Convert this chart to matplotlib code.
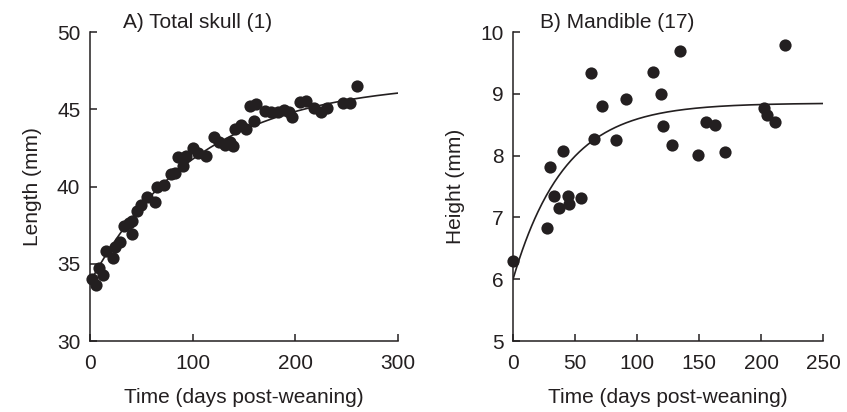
import numpy as np
import matplotlib
matplotlib.use("Agg")
import matplotlib.pyplot as plt

plt.rcParams["font.family"] = ["Liberation Sans", "DejaVu Sans"]

# Panel A: total skull length (mm) vs days post-weaning
skull_days = [2, 6, 9, 13, 16, 22, 24, 29, 33, 38, 41, 41, 46, 50, 55, 63, 65, 72,
              79, 83, 86, 91, 93, 100, 105, 113, 121, 126, 131, 136, 139, 141, 147,
              152, 156, 160, 162, 170, 176, 183, 189, 194, 197, 204, 210, 218, 225,
              231, 246, 253, 260]
skull_length = [34.0, 33.6, 34.7, 34.3, 35.85, 35.4, 36.1, 36.4, 37.45, 37.65, 37.8,
                36.9, 38.4, 38.8, 39.3, 39.0, 39.95, 40.1, 40.8, 40.85, 41.9, 41.3,
                42.0, 42.5, 42.15, 42.0, 43.2, 42.9, 42.7, 42.85, 42.6, 43.7, 43.95,
                43.75, 45.2, 44.25, 45.35, 44.9, 44.85, 44.85, 44.95, 44.85, 44.5,
                45.5, 45.55, 45.05, 44.8, 45.05, 45.4, 45.4, 46.5]

# Panel B: mandible height (mm)
mand_days = [0, 27, 30, 33, 37, 40, 44, 45, 55, 63, 65, 72, 83, 91, 113, 119, 121,
             128, 135, 149, 156, 163, 171, 202, 205, 211, 219]
mand_height = [6.3, 6.83, 7.82, 7.35, 7.16, 8.07, 7.35, 7.22, 7.31, 9.33, 8.27, 8.81,
               8.26, 8.92, 9.36, 8.99, 8.48, 8.17, 9.70, 8.01, 8.54, 8.49, 8.06, 8.77,
               8.65, 8.55, 9.79]

# fitted curves: asymptote, start value, rate
skull_fit = (46.8, 33.8, 0.0095)
mand_fit = (8.85, 6.0, 0.024)

FS = 15
ink = "#231f20"


def growth(t, fit):
    top, start, rate = fit
    return top - (top - start) * np.exp(-rate * t)


def style_axes(ax):
    for side in ("top", "right"):
        ax.spines[side].set_visible(False)
    for side in ("left", "bottom"):
        ax.spines[side].set_linewidth(1.1)
        ax.spines[side].set_color(ink)
    ax.tick_params(direction="in", length=5, width=1.1, labelsize=FS,
                   color=ink, labelcolor=ink)
    ax.tick_params(axis="x", pad=9)
    ax.tick_params(axis="y", pad=7)


fig = plt.figure(figsize=(8.47, 4.12), dpi=100)
ax_a = fig.add_axes([0.1063, 0.1723, 0.3637, 0.750])
ax_b = fig.add_axes([0.6057, 0.1723, 0.3660, 0.750])

t_a = np.linspace(0, 300, 300)
ax_a.plot(t_a, growth(t_a, skull_fit), color=ink, lw=1.2, zorder=2)
ax_a.plot(skull_days, skull_length, "o", color=ink, ms=8.8, mec="none",
          clip_on=False, zorder=3)
ax_a.set_xlim(0, 300)
ax_a.set_ylim(30, 50)
ax_a.set_xticks([0, 100, 200, 300])
ax_a.set_yticks([30, 35, 40, 45, 50])
ax_a.set_xlabel("Time (days post-weaning)", fontsize=FS, color=ink, labelpad=11)
ax_a.set_ylabel("Length (mm)", fontsize=FS, color=ink, labelpad=11)
ax_a.text(0.107, 1.013, "A) Total skull (1)", transform=ax_a.transAxes,
          fontsize=FS, color=ink, va="baseline", ha="left")
style_axes(ax_a)

t_b = np.linspace(0, 250, 300)
ax_b.plot(t_b, growth(t_b, mand_fit), color=ink, lw=1.2, zorder=2)
ax_b.plot(mand_days, mand_height, "o", color=ink, ms=8.8, mec="none",
          clip_on=False, zorder=3)
ax_b.set_xlim(0, 250)
ax_b.set_ylim(5, 10)
ax_b.set_xticks([0, 50, 100, 150, 200, 250])
ax_b.set_yticks([5, 6, 7, 8, 9, 10])
ax_b.set_xlabel("Time (days post-weaning)", fontsize=FS, color=ink, labelpad=11)
ax_b.set_ylabel("Height (mm)", fontsize=FS, color=ink, labelpad=11)
ax_b.text(0.087, 1.013, "B) Mandible (17)", transform=ax_b.transAxes,
          fontsize=FS, color=ink, va="baseline", ha="left")
style_axes(ax_b)

fig.savefig("out.png", dpi=100, facecolor="white")
